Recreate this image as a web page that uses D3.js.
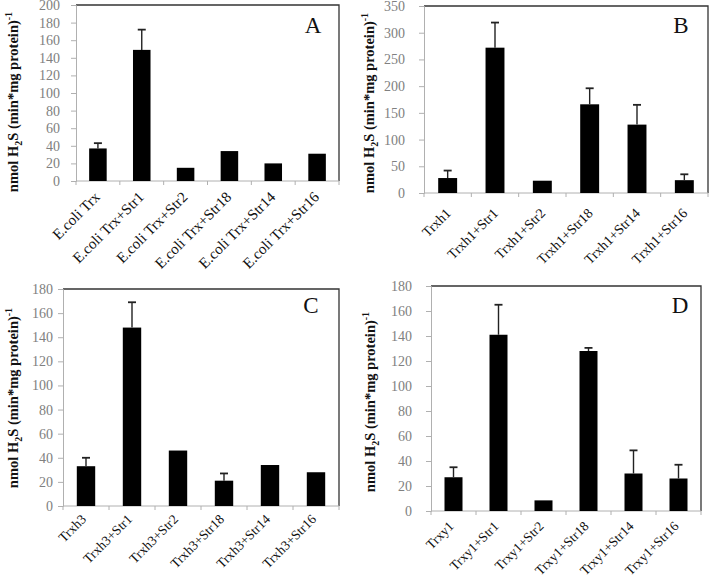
<!DOCTYPE html>
<html><head><meta charset="utf-8">
<script src="https://cdn.jsdelivr.net/npm/d3@7"></script>
<style>body{margin:0;background:#fff}svg{display:block}</style>
</head><body>
<svg id="chart" width="709" height="580"></svg>
<script>
// ---- data ----
const categoriesA = ["E.coli Trx","E.coli Trx+Str1","E.coli Trx+Str2","E.coli Trx+Str18","E.coli Trx+Str14","E.coli Trx+Str16"];
const valuesA = [37, 149, 15, 34, 20, 31];
const errorsA = [6, 23, 0, 0, 0, 0];
const ticksA = [0,20,40,60,80,100,120,140,160,180,200];

const categoriesB = ["Trxh1","Trxh1+Str1","Trxh1+Str2","Trxh1+Str18","Trxh1+Str14","Trxh1+Str16"];
const valuesB = [28, 272, 23, 166, 128, 24];
const errorsB = [14, 47, 0, 30, 37, 11];
const ticksB = [0,50,100,150,200,250,300,350];

const categoriesC = ["Trxh3","Trxh3+Str1","Trxh3+Str2","Trxh3+Str18","Trxh3+Str14","Trxh3+Str16"];
const valuesC = [33, 148, 46, 21, 34, 28];
const errorsC = [7, 21, 0, 6, 0, 0];
const ticksC = [0,20,40,60,80,100,120,140,160,180];

const categoriesD = ["Trxy1","Trxy1+Str1","Trxy1+Str2","Trxy1+Str18","Trxy1+Str14","Trxy1+Str16"];
const valuesD = [27, 141, 8.5, 128, 30, 26];
const errorsD = [8, 24, 0, 2.5, 18.5, 11];
const ticksD = [0,20,40,60,80,100,120,140,160,180];

const panelLetters = ["A","B","C","D"];

// ---- layout ----
const panels = [
  {cats:categoriesA, vals:valuesA, errs:errorsA, ticks:ticksA, max:200, x0:76, x1:339, yT:5, yB:181, lx:313, ly:33, tx:18, tcy:102, labGap:16, xlDx:3, xlDy:17, xlFs:15},
  {cats:categoriesB, vals:valuesB, errs:errorsB, ticks:ticksB, max:350, x0:424, x1:708, yT:6, yB:193, lx:681, ly:33, tx:374, tcy:103, labGap:19, xlDx:4, xlDy:21, xlFs:14},
  {cats:categoriesC, vals:valuesC, errs:errorsC, ticks:ticksC, max:180, x0:63, x1:339, yT:289, yB:506, lx:311, ly:313, tx:18, tcy:398, labGap:10, xlDx:1, xlDy:14, xlFs:13.5},
  {cats:categoriesD, vals:valuesD, errs:errorsD, ticks:ticksD, max:180, x0:431, x1:701, yT:286, yB:511, lx:680, ly:313, tx:375, tcy:402, labGap:19, xlDx:1, xlDy:16, xlFs:13.5}
];

const svg = d3.select("#chart");
const serif = "'Liberation Serif','DejaVu Serif',serif";

panels.forEach((p, i) => {
  const g = svg.append("g");
  const x = d3.scaleBand().domain(p.cats).range([p.x0, p.x1]).paddingInner(0.6).paddingOuter(0.3);
  const xb = d3.scaleBand().domain(p.cats).range([p.x0, p.x1]);
  const y = d3.scaleLinear().domain([0, p.max]).range([p.yB, p.yT]);

  // top & right border
  g.append("path")
    .attr("d", `M${p.x0},${p.yT}H${p.x1}V${p.yB}`)
    .attr("fill","none").attr("stroke","#333").attr("stroke-width",1.3);

  // y axis
  const ya = g.append("g").attr("transform",`translate(${p.x0},0)`)
    .call(d3.axisLeft(y).tickValues(p.ticks).tickSize(5).tickPadding(p.labGap-5).tickFormat(d3.format("d")));
  ya.attr("font-family", null);
  ya.select(".domain").attr("stroke","#b0b0b0");
  ya.selectAll(".tick line").attr("stroke","#b0b0b0");
  ya.selectAll(".tick text").attr("fill","#808080").style("font-family",serif).style("font-size", "14px");

  // x axis (boundary ticks)
  const xa = g.append("g").attr("transform",`translate(0,${p.yB})`);
  xa.append("line").attr("x1",p.x0).attr("x2",p.x1).attr("stroke","#b0b0b0");
  const bounds = p.cats.map(c => xb(c)).concat([p.x1]);
  xa.selectAll("line.tk").data(bounds).join("line").attr("class","tk")
    .attr("x1",d=>d).attr("x2",d=>d).attr("y1",0).attr("y2",4).attr("stroke","#b0b0b0");

  // x labels
  g.selectAll("text.xl").data(p.cats).join("text").attr("class","xl")
    .attr("transform", d => `translate(${xb(d)+xb.bandwidth()/2+p.xlDx},${p.yB+p.xlDy}) rotate(-45)`)
    .attr("text-anchor","end")
    .style("font-family",serif).style("font-size",p.xlFs+"px").attr("fill","#111")
    .text(d=>d);

  // bars
  g.selectAll("rect.bar").data(p.cats).join("rect").attr("class","bar")
    .attr("x", d => x(d)).attr("width", x.bandwidth())
    .attr("y", (d,j) => y(p.vals[j])).attr("height", (d,j) => p.yB - y(p.vals[j]))
    .attr("fill","#000");

  // error bars (upper)
  p.cats.forEach((c,j) => {
    if (!p.errs[j]) return;
    const cx = x(c) + x.bandwidth()/2;
    const yt = y(p.vals[j] + p.errs[j]);
    g.append("line").attr("x1",cx).attr("x2",cx).attr("y1",y(p.vals[j])).attr("y2",yt)
      .attr("stroke","#222").attr("stroke-width",1.4);
    g.append("line").attr("x1",cx-4).attr("x2",cx+4).attr("y1",yt).attr("y2",yt)
      .attr("stroke","#222").attr("stroke-width",1.8);
  });

  // panel letter
  g.append("text").attr("x",p.lx).attr("y",p.ly).attr("text-anchor","middle")
    .style("font-family",serif).style("font-size","23px").attr("fill","#111").text(panelLetters[i]);

  // y title
  const t = g.append("text").attr("transform",`translate(${p.tx},${p.tcy}) rotate(-90)`)
    .attr("text-anchor","middle")
    .style("font-family",serif).style("font-size","14.5px").style("font-weight","bold").attr("fill","#111");
  t.append("tspan").text("nmol H");
  t.append("tspan").attr("dy",4).style("font-size","10px").text("2");
  t.append("tspan").attr("dy",-4).text(i===1 ? "S  (min*mg protein)" : "S (min*mg protein)");
  t.append("tspan").attr("dy",-6).style("font-size","10px").text("-1");
});
</script>
</body></html>
